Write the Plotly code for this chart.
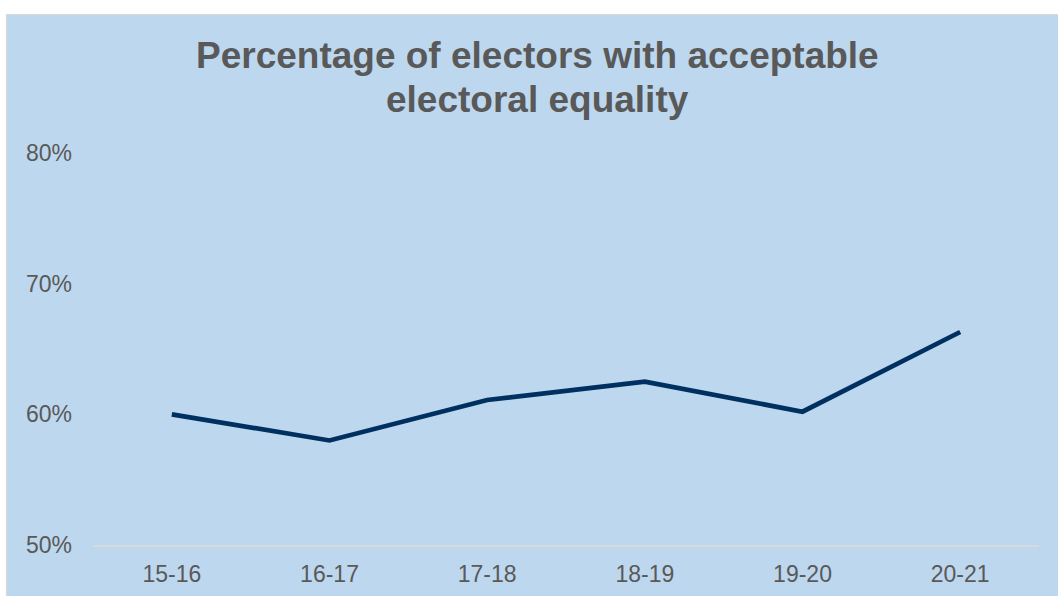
import plotly.graph_objects as go

categories = ["15-16", "16-17", "17-18", "18-19", "19-20", "20-21"]
values = [60.0, 58.0, 61.1, 62.5, 60.2, 66.3]
y_ticks = [50, 60, 70, 80]
y_tick_labels = ["50%", "60%", "70%", "80%"]
title_lines = ["Percentage of electors with acceptable", "electoral equality"]

W, H = 1058, 596
L, R, T, B = 93, 19, 153, 51
pw, ph = W - L - R, H - T - B

def px_x(p):
    return (p - L) / pw

def px_y(p):
    return (H - B - p) / ph

fig = go.Figure()
fig.add_trace(go.Scatter(
    x=categories, y=values, mode="lines",
    line=dict(color="#00305F", width=4.7),
    hoverinfo="skip", showlegend=False,
))

fig.add_shape(type="rect", xref="paper", yref="paper",
              x0=px_x(6.5), x1=px_x(1062), y0=px_y(600), y1=px_y(14.5),
              fillcolor="#BDD7EE", line=dict(color="#D9D9D9", width=1.2),
              layer="below")

for line_text, cy in zip(title_lines, [55.5, 99.5]):
    fig.add_annotation(
        text=f"<b>{line_text}</b>", xref="paper", yref="paper",
        x=px_x(537.5), y=px_y(cy), xanchor="center", yanchor="middle",
        showarrow=False, font=dict(size=37, color="#595959"),
    )

fig.update_layout(
    width=W, height=H,
    margin=dict(l=L, r=R, t=T, b=B, pad=0, autoexpand=False),
    paper_bgcolor="white",
    plot_bgcolor="rgba(0,0,0,0)",
    font=dict(family="Liberation Sans, Arial, sans-serif", color="#595959"),
    xaxis=dict(
        type="category", showgrid=False, zeroline=False,
        showline=True, linecolor="#D9D9D9", linewidth=2,
        ticks="", tickfont=dict(size=23, color="#595959"),
        ticklabelstandoff=7, range=[-0.5, 5.5], automargin=False,
    ),
    yaxis=dict(
        range=[50, 80], tickvals=y_ticks, ticktext=y_tick_labels,
        showgrid=False, zeroline=False, showline=False,
        ticks="", tickfont=dict(size=23, color="#595959"),
        ticklabelstandoff=20, automargin=False,
    ),
)

fig.write_html("out.html")
